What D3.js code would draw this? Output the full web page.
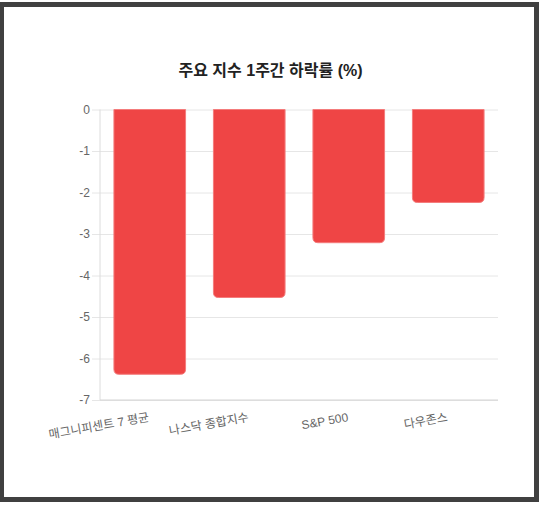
<!DOCTYPE html>
<html>
<head>
<meta charset="utf-8">
<script src="https://cdn.jsdelivr.net/npm/d3@7"></script>
<style>
  html, body { margin: 0; padding: 0; background: #fff; }
  #frame {
    position: absolute; left: -1px; top: 2px;
    width: 530px; height: 490px;
    border: 5px solid #404040; background: #fff;
  }
  svg { position: absolute; left: 0; top: 0; }
</style>
</head>
<body>
<div id="frame"></div>
<svg id="chart" width="539" height="505"></svg>
<script>

	// values
	var categories = ["매그니피센트 7 평균", "나스닥 종합지수", "S&P 500", "다우존스"];
	var drops = [-6.38, -4.53, -3.21, -2.24];
	var yTicks = [0, -1, -2, -3, -4, -5, -6, -7];
	var title = "주요 지수 1주간 하락률 (%)";

	var font = "'Liberation Sans', Arial, 'Noto Sans CJK KR', sans-serif";
	var plotLeft = 100, plotRight = 498, plotTop = 109.5, plotBottom = 400;

	var svg = d3.select("#chart");

	var x = d3.scaleBand().domain(categories).range([plotLeft, plotRight]).paddingInner(0.28).paddingOuter(0.14);
	var y = d3.scaleLinear().domain([-7, 0]).range([plotBottom, plotTop]);

	svg.append("text")
		.attr("x", 270.5).attr("y", 76)
		.attr("text-anchor", "middle")
		.style("font-family", font).style("font-size", "16px").style("font-weight", "bold")
		.style("fill", "#222")
		.text(title);

	// y axis with grid lines across the plot (plain hyphen for the minus, like the original)
	var yAxis = svg.append("g")
		.attr("transform", "translate(" + plotLeft + ",0)")
		.call(d3.axisLeft(y).tickValues(yTicks).tickSize(8).tickPadding(2).tickFormat(function(d){ return String(d); }));
	yAxis.select(".domain").remove();
	yAxis.selectAll(".tick line").attr("x1", plotRight - plotLeft).attr("stroke", "#e6e6e6");
	yAxis.selectAll(".tick text")
		.style("font-family", font).style("font-size", "12px").style("fill", "#666");

	svg.append("line").attr("x1", plotLeft).attr("x2", plotLeft).attr("y1", plotTop).attr("y2", plotBottom).attr("stroke", "#dcdcdc");
	svg.append("line").attr("x1", plotLeft).attr("x2", plotRight).attr("y1", plotBottom).attr("y2", plotBottom).attr("stroke", "#d4d4d4");

	// bars hang from 0, rounded at the far end
	function barPath(d, i){
		var x0 = x(categories[i]), w = x.bandwidth();
		var y0 = y(0), y1 = y(d), r = 5;
		return "M" + x0 + "," + y0 +
			"H" + (x0 + w) +
			"V" + (y1 - r) +
			"Q" + (x0 + w) + "," + y1 + " " + (x0 + w - r) + "," + y1 +
			"H" + (x0 + r) +
			"Q" + x0 + "," + y1 + " " + x0 + "," + (y1 - r) +
			"Z";
	}

	svg.append("g").selectAll("path").data(drops).enter().append("path")
		.attr("d", barPath)
		.attr("fill", "#ef4545")
		.attr("stroke", "#f47c7c")
		.attr("stroke-width", 1);

	svg.append("g").selectAll("text").data(categories).enter().append("text")
		.attr("transform", function(d){
			return "translate(" + (x(d) + x.bandwidth() / 2) + "," + 421 + ") rotate(-10)";
		})
		.attr("text-anchor", "end")
		.style("font-family", font).style("font-size", "12px").style("fill", "#666")
		.text(function(d){ return d; });

</script>
</body>
</html>
